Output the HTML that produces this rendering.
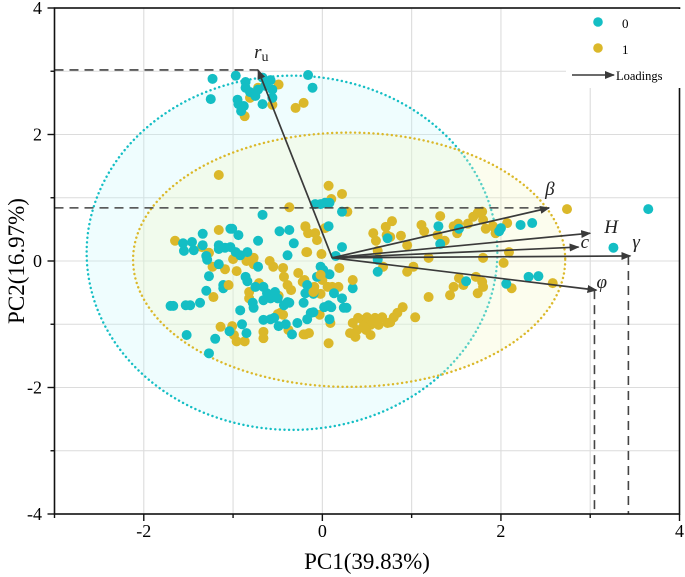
<!DOCTYPE html>
<html><head><meta charset="utf-8"><style>
html,body{margin:0;padding:0;background:#fff;}
svg{display:block;font-family:"Liberation Serif",serif;}
svg text{font-family:"Liberation Serif",serif;}
</style></head><body>
<svg id="chart" width="685" height="577" viewBox="0 0 685 577">
<defs>
<marker id="ah" markerWidth="10" markerHeight="8" refX="9" refY="4" orient="auto" markerUnits="userSpaceOnUse"><path d="M0,0 L10,4 L0,8 Z" fill="#3a3a3a"/></marker>
</defs>
<g id="grid"></g>
<g id="ell"></g>
<g id="pts"></g>
<g id="load"></g>
<g id="axes"></g>
<g id="legend">
<rect x="566" y="9" width="116" height="79" fill="#fff"/>
<g><circle cx="598" cy="22" r="4.8" fill="#14bec4"/><text x="622" y="28" font-size="13" font-family="Liberation Serif, serif">0</text></g>
<g><circle cx="598" cy="48" r="4.8" fill="#dbb82a"/><text x="622" y="54" font-size="13" font-family="Liberation Serif, serif">1</text></g>
<g><line x1="572" y1="75" x2="614" y2="75" stroke="#3a3a3a" stroke-width="1.5" marker-end="url(#ah)"/><text x="616" y="80" font-size="12.5" font-family="Liberation Serif, serif">Loadings</text></g>
</g>
</svg>
<script>
const xTicks=[-2,0,2,4];
const yTicks=[-4,-2,0,2,4];
const c0x=[-1.23,-0.97,-0.86,-0.67,-0.58,-0.86,-0.81,-0.72,-0.64,-0.56,-1.25,-0.95,-0.94,-0.88,-0.75,-0.67,-0.56,-0.16,-0.11,-0.91,
-1.34,-1.56,-1.46,-1.55,-1.44,-1.34,-1.30,-1.29,-1.16,-1.16,-1.03,-1.01,-0.94,-1.09,-1.03,-0.97,-0.92,-0.84,-0.72,-0.67,-0.48,-0.37,-0.32,-0.39,
-1.16,-1.27,-1.11,-1.11,-0.86,-0.84,-0.72,-1.30,-1.70,-1.67,-1.53,-1.48,-1.37,-0.92,-0.78,-0.77,-0.75,-0.66,-0.62,-0.58,-0.66,-0.53,-0.50,-0.43,-0.39,-0.37,
-0.66,-0.58,-0.54,-0.49,-0.41,-0.28,-0.34,-0.90,-0.85,-1.04,-1.20,-1.52,-1.27,-0.21,-0.19,-0.17,-0.10,-0.06,0.01,0.08,0.13,0.02,0.07,0.10,0.22,0.24,0.27,
-0.13,-0.10,-0.17,0.08,-0.08,-0.02,0.03,0.08,0.22,0.07,0.22,-0.02,0.15,0.34,0.62,0.62,0.73,1.30,1.32,1.53,1.98,2.00,2.22,2.35,2.31,2.42,2.06,1.61,3.26,3.65];
const c0y=[2.88,2.93,2.83,2.90,2.86,2.74,2.67,2.71,2.77,2.71,2.56,2.55,2.48,2.45,2.61,2.48,2.58,2.94,2.74,2.37,
0.43,0.28,0.30,0.16,0.17,0.25,0.08,0.02,0.25,0.19,0.51,0.51,0.41,0.21,0.22,0.14,0.09,0.14,0.32,0.73,0.47,0.49,0.28,0.09,
-0.05,-0.24,-0.38,-0.43,-0.25,-0.32,-0.09,-0.47,-0.71,-0.71,-0.70,-0.70,-0.66,-0.78,-0.66,-0.74,-0.41,-0.41,-0.51,-0.59,-0.62,-0.49,-0.59,-0.70,-0.65,-0.66,
-0.93,-0.92,-0.90,-1.03,-1.00,-0.98,-1.16,-1.00,-1.14,-1.11,-1.23,-1.17,-1.46,-0.66,-0.51,-0.38,-0.52,-0.25,-0.14,-0.21,-0.51,-0.73,-0.70,-0.73,-0.59,-0.74,-0.74,
-0.82,-0.81,-0.92,-0.92,0.90,0.90,0.92,0.92,0.78,0.55,0.22,-0.09,0.08,-0.43,0.02,-0.17,0.36,0.55,0.27,0.51,0.47,0.52,0.57,0.60,-0.25,-0.24,-0.36,-0.32,0.21,0.82];
const c1x=[-0.72,-0.49,-0.81,-0.56,-0.30,-0.21,-0.87,-1.16,0.07,0.22,-0.37,-1.65,-1.35,-1.27,-1.23,-1.16,-1.09,-0.96,-1.00,-0.85,-0.77,-0.77,-0.59,-0.55,-0.44,-0.43,-0.39,-0.35,
-0.27,-0.22,-0.20,-0.18,-0.19,-0.16,-0.08,-0.06,-0.01,0.03,0.19,-0.09,0.00,0.06,0.11,0.18,-0.02,0.09,0.07,-0.82,-0.82,-0.71,-0.49,-0.47,-0.50,-0.44,-0.38,-0.66,-0.66,
-1.14,-1.01,-0.99,-0.96,-0.87,-1.22,-1.05,-0.21,-0.15,-0.03,0.10,0.28,0.57,0.60,0.62,0.71,0.78,0.72,0.76,0.88,0.95,1.19,1.02,0.95,0.68,1.11,1.14,1.29,1.32,1.37,1.47,1.51,1.52,
1.63,1.69,1.74,1.79,1.80,1.83,1.91,1.94,2.07,2.09,2.03,1.80,1.53,1.58,1.47,1.43,1.19,1.72,1.79,1.80,1.74,2.12,1.04,0.90,0.84,
0.34,0.39,0.45,0.50,0.54,0.59,0.67,0.73,0.80,0.54,0.37,0.31,0.46,0.76,0.63,0.40,0.49,-0.19,-0.19,-0.17,-0.02,-0.10,0.34,2.74,2.58];
const c1y=[2.74,2.79,2.58,2.47,2.42,2.50,2.29,1.36,1.19,1.06,0.85,0.32,0.22,0.13,-0.09,0.49,-0.13,-0.16,0.03,0.00,0.05,-0.05,0.00,-0.09,-0.11,-0.25,-0.38,-0.46,
-0.19,-0.33,-0.30,0.14,0.55,0.44,0.44,0.33,0.11,0.52,-0.11,-0.41,-0.30,-0.41,-0.41,-0.41,-0.52,-0.98,-1.30,-0.49,-0.59,-0.35,-0.55,-0.82,-0.84,-0.85,-1.09,-1.12,-1.22,
-1.04,-1.03,-1.17,-1.27,-1.27,-0.57,-0.38,-1.16,-1.14,-0.85,0.98,0.78,0.44,0.32,0.16,0.54,0.63,0.41,0.38,0.40,0.25,0.05,-0.09,-0.17,-0.09,0.57,0.47,0.41,0.71,0.32,0.55,0.44,0.59,
0.59,0.70,0.76,0.78,0.65,0.51,0.55,0.44,0.60,0.14,-0.03,0.05,-0.27,-0.38,-0.41,-0.54,-0.57,-0.25,-0.33,-0.41,-0.51,-0.43,-0.89,-0.73,-0.82,
-0.98,-1.09,-0.93,-0.89,-1.01,-0.90,-0.89,-0.98,-0.89,-1.17,-1.20,-1.14,-1.04,-0.97,-1.01,-0.90,-1.09,-1.16,0.54,0.14,-0.22,-0.49,-0.30,0.82,-0.35];
const loadNames=["ru","β","H","c","γ","φ"];
const loadX=[-0.72,2.54,3.00,2.87,3.45,3.07];
const loadY=[3.02,0.84,0.44,0.22,0.08,-0.46];
const loadOrigin=[0.11,0.05];

const L=54.5,R=679.5,T=8,B=514;
const X=v=>L+(v+3)/7*(R-L);
const Y=v=>B-(v+4)/8*(B-T);
const NS="http://www.w3.org/2000/svg";
const FF="Liberation Serif, serif";
function mk(tag,attrs,parent){const e=document.createElementNS(NS,tag);for(const k in attrs)e.setAttribute(k,attrs[k]);if(tag==='text')e.setAttribute('font-family',FF);parent.appendChild(e);return e;}
const grid=document.getElementById('grid');
for(let v=-2;v<=3;v++){const g=mk('line',{x1:X(v),x2:X(v),y1:T,y2:B,stroke:'#dcdcdc','stroke-width':1.1},grid);

}
for(let v=-3;v<=3;v++){const g=mk('line',{x1:L,x2:R,y1:Y(v),y2:Y(v),stroke:'#dcdcdc','stroke-width':1.1},grid);

}
const ell=document.getElementById('ell');
const e0=mk('ellipse',{cx:X(-0.34),cy:Y(0.13),rx:2.30*(R-L)/7,ry:2.80*(B-T)/8,fill:'rgba(190,246,252,0.25)',stroke:'#14bec4','stroke-width':2.4,'stroke-dasharray':'0.1 4.5','stroke-linecap':'round'},ell);


const e1=mk('ellipse',{cx:X(0.30),cy:Y(0.02),rx:2.42*(R-L)/7,ry:2.01*(B-T)/8,fill:'rgba(246,249,200,0.3)',stroke:'#dbb82a','stroke-width':2.4,'stroke-dasharray':'0.1 4.5','stroke-linecap':'round'},ell);


const pts=document.getElementById('pts');
const order=[];
for(let i=0;i<Math.max(c0x.length,c1x.length);i++){if(i<c1x.length)order.push([1,i]);if(i<c0x.length)order.push([0,i]);}
order.forEach(([g,i])=>{const xs=g?c1x:c0x,ys=g?c1y:c0y;
const p=mk('circle',{cx:X(xs[i]),cy:Y(ys[i]),r:5,fill:g?'#dbb82a':'#14bec4'},pts);

});
const load=document.getElementById('load');
const dash={stroke:'#444','stroke-width':1.6,'stroke-dasharray':'9 6'};
let d;
d=mk('line',Object.assign({x1:L,x2:X(loadX[0]),y1:Y(loadY[0]),y2:Y(loadY[0])},dash),load);


d=mk('line',Object.assign({x1:L,x2:X(loadX[1]),y1:Y(loadY[1]),y2:Y(loadY[1])},dash),load);


d=mk('line',Object.assign({x1:X(loadX[4])-2,x2:X(loadX[4])-2,y1:Y(loadY[4]),y2:B},dash),load);


d=mk('line',Object.assign({x1:X(loadX[5])-2,x2:X(loadX[5])-2,y1:Y(loadY[5]),y2:B},dash),load);


const lblOff=[[-4,-12],[-4,-13],[14,0],[2,1],[2,-8],[0,-2]];
loadNames.forEach((n,i)=>{
const a=mk('line',{x1:X(loadOrigin[0]),y1:Y(loadOrigin[1]),x2:X(loadX[i]),y2:Y(loadY[i]),stroke:'#3a3a3a','stroke-width':1.7,'marker-end':'url(#ah)'},load);


const t=mk('text',{x:X(loadX[i])+lblOff[i][0],y:Y(loadY[i])+lblOff[i][1],'font-size':19,'font-style':'italic',fill:'#222'},load);


if(n==="ru"){t.textContent="r";const s=mk('tspan',{'font-style':'normal','font-size':14,dy:3},t);s.textContent="u";}
else t.textContent=n;
});
const axes=document.getElementById('axes');
const fr=mk('rect',{x:L,y:T,width:R-L,height:B-T,fill:'none',stroke:'#111','stroke-width':1.6},axes);


for(let v=-3;v<=4;v++){const tk=mk('line',{x1:X(v),x2:X(v),y1:B,y2:B+(v%2===0?7:4),stroke:'#111','stroke-width':1.4},axes);

}
for(let v=-4;v<=4;v++){const tk=mk('line',{x1:L,x2:L-(v%2===0?7:4),y1:Y(v),y2:Y(v),stroke:'#111','stroke-width':1.4},axes);

}
xTicks.forEach(v=>{const t=mk('text',{x:X(v),y:537,'text-anchor':'middle','font-size':18},axes);


t.textContent=v;});
yTicks.forEach(v=>{const t=mk('text',{x:42,y:Y(v)+6,'text-anchor':'end','font-size':18},axes);


t.textContent=v;});
const xt=mk('text',{x:367,y:569,'text-anchor':'middle','font-size':23},axes);


xt.textContent="PC1(39.83%)";
const yt=mk('text',{x:0,y:0,'text-anchor':'middle','font-size':23,transform:'translate(24,261) rotate(-90)'},axes);


yt.textContent="PC2(16.97%)";
</script>
</body></html>
